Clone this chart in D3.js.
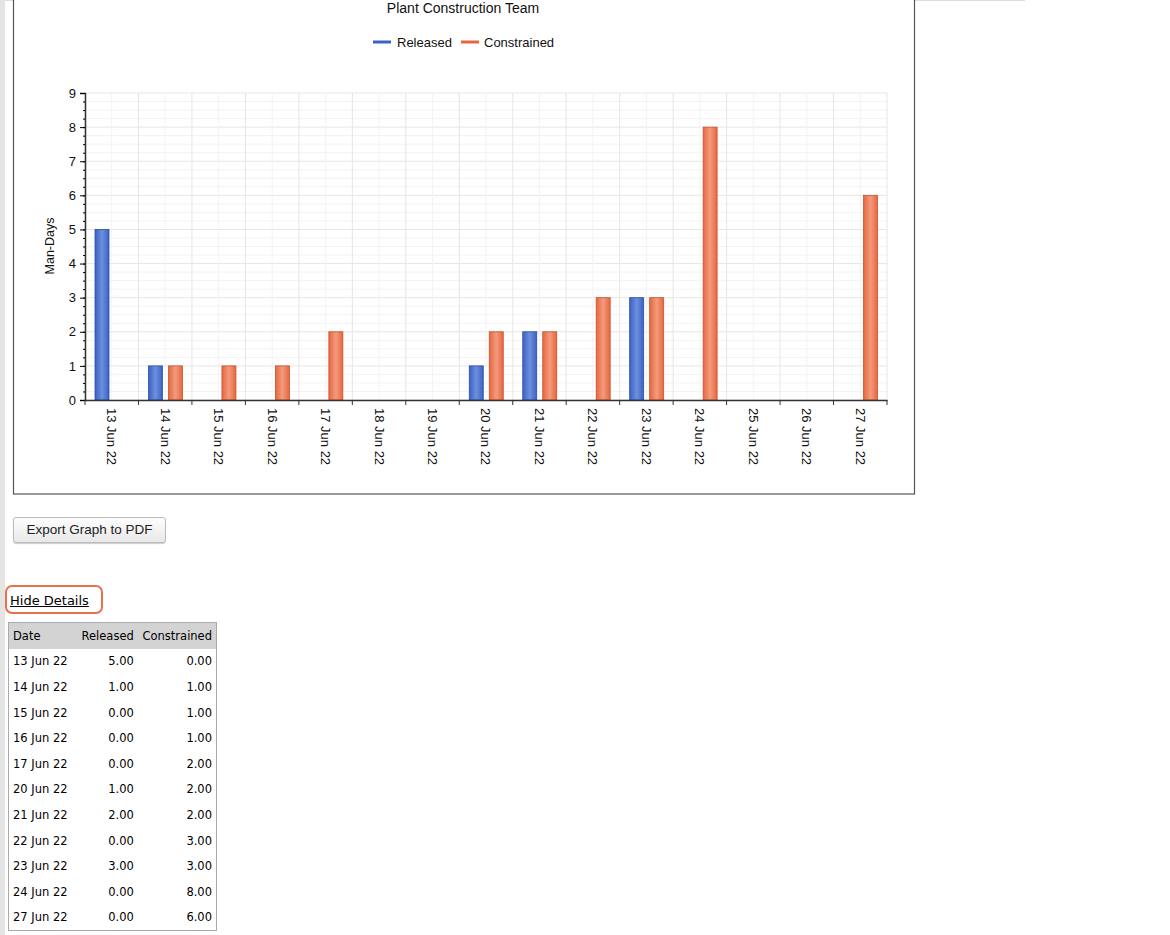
<!DOCTYPE html>
<html><head><meta charset="utf-8">
<script src="https://cdn.jsdelivr.net/npm/d3@7"></script>
<style>
body{margin:0;background:#fff;font-family:"Liberation Sans",Arial,sans-serif;}
#page{position:absolute;left:0;top:0;width:1170px;height:935px;}
#lbar{position:absolute;left:0;top:0;width:5px;height:935px;background:#e4e4e4;}
#tbar{position:absolute;left:5px;top:0;width:1020px;height:1px;background:#ddd;}
#btn{position:absolute;left:13px;top:517px;width:151px;height:24px;border:1px solid #bbb;border-radius:3px;background:linear-gradient(#fdfdfd,#e8e8e8);font-size:13.5px;color:#222;text-align:center;line-height:24px;box-shadow:0 1px 1px #ccc;}
#hide{position:absolute;left:5px;top:585px;width:98px;height:29px;border:2px solid #e8704a;border-radius:7px;box-sizing:border-box;}
#hide span{position:absolute;left:3px;top:6px;font-family:"DejaVu Sans",Verdana,sans-serif;font-size:13px;text-decoration:underline;color:#000;}
table{position:absolute;left:8px;top:622px;width:209px;border-collapse:collapse;border:1px solid #aaa;font-family:"DejaVu Sans",Verdana,sans-serif;font-size:11.5px;}
td,th{height:25.6px;padding:0 4px;font-weight:normal;}
th{background:#d3d3d3;text-align:left;}
td.n,th.n{text-align:right;}
</style></head>
<body><div id="page">
<div id="lbar"></div><div id="tbar"></div>
<svg id="chart" width="1170" height="500" style="position:absolute;left:0;top:0"></svg>
<div id="btn">Export Graph to PDF</div>
<div id="hide"><span>Hide Details</span></div>
<table id="tbl"></table>
</div>
<script>
var dates=["13 Jun 22","14 Jun 22","15 Jun 22","16 Jun 22","17 Jun 22","18 Jun 22","19 Jun 22","20 Jun 22","21 Jun 22","22 Jun 22","23 Jun 22","24 Jun 22","25 Jun 22","26 Jun 22","27 Jun 22"];
var released=[5,1,0,0,0,0,0,1,2,0,3,0,0,0,0];
var constrained=[0,1,1,1,2,0,0,2,2,3,3,8,0,0,6];
var tableDates=["13 Jun 22","14 Jun 22","15 Jun 22","16 Jun 22","17 Jun 22","20 Jun 22","21 Jun 22","22 Jun 22","23 Jun 22","24 Jun 22","27 Jun 22"];

var svg=d3.select("#chart");
svg.append("rect").attr("x",13.5).attr("y",-5).attr("width",901).attr("height",499)
   .attr("fill","#fff").attr("stroke","#555").attr("stroke-width",1.2);

var defs=svg.append("defs");
function grad(id,c1,c2,c3){
  var g=defs.append("linearGradient").attr("id",id);
  g.append("stop").attr("offset","0").attr("stop-color",c1);
  g.append("stop").attr("offset","0.5").attr("stop-color",c2);
  g.append("stop").attr("offset","1").attr("stop-color",c3);
}
grad("gb","#3a62c6","#6d8fdc","#3a62c6");
grad("go","#e8663f","#f29b7c","#e8663f");

var x=d3.scaleBand().domain(dates).range([85,887]);
var y=d3.scaleLinear().domain([0,9]).range([400,93]);
var g=svg.append("g");

// grid
d3.range(0,9.01,0.25).forEach(function(v){
  g.append("line").attr("x1",85).attr("x2",887).attr("y1",y(v)).attr("y2",y(v))
   .attr("stroke",v%1==0?"#e6e6e6":"#f3f3f3");
});
dates.forEach(function(d){
  [x(d),x(d)+x.bandwidth()/2].forEach(function(px,i){
    g.append("line").attr("x1",px).attr("x2",px).attr("y1",93).attr("y2",400)
     .attr("stroke",i==0?"#e6e6e6":"#f3f3f3");
  });
});
g.append("line").attr("x1",887).attr("x2",887).attr("y1",93).attr("y2",400).attr("stroke","#e6e6e6");

var bw=14;
g.selectAll(".rb").data(dates).enter().append("rect")
 .attr("x",function(d){return x(d)+10;}).attr("width",bw)
 .attr("y",function(d,i){return y(released[i]);})
 .attr("height",function(d,i){return 400-y(released[i]);})
 .attr("fill","url(#gb)").attr("stroke","#2c4fa8").attr("stroke-width",0.8)
 .style("display",function(d,i){return released[i]?null:"none";});
g.selectAll(".cb").data(dates).enter().append("rect")
 .attr("x",function(d){return x(d)+30;}).attr("width",bw)
 .attr("y",function(d,i){return y(constrained[i]);})
 .attr("height",function(d,i){return 400-y(constrained[i]);})
 .attr("fill","url(#go)").attr("stroke","#c9522d").attr("stroke-width",0.8)
 .style("display",function(d,i){return constrained[i]?null:"none";});

// y axis
var ya=g.append("g").attr("transform","translate(85,0)")
 .call(d3.axisLeft(y).ticks(9).tickSize(5).tickPadding(4));
ya.selectAll("text").attr("font-size",13).attr("fill","#111").attr("font-family","Liberation Sans,Arial");
ya.select(".domain").attr("stroke","#333").attr("stroke-width",1.5);
var ym=g.append("g").attr("transform","translate(85,0)")
 .call(d3.axisLeft(y).tickValues(d3.range(0,9.01,0.25)).tickSize(2).tickFormat(""));
ym.select(".domain").remove();
g.append("text").attr("transform","translate(54,246) rotate(-90)").attr("text-anchor","middle")
 .attr("font-size",12.5).attr("fill","#111").text("Man-Days");

// x axis
var xa=g.append("g").attr("transform","translate(0,400)")
 .call(d3.axisBottom(x).tickSize(0).tickPadding(0));
xa.select(".domain").attr("stroke","#333").attr("stroke-width",1.5);
xa.selectAll("text").attr("font-size",13).attr("fill","#111").attr("font-family","Liberation Sans,Arial")
 .attr("transform","translate(0,8) rotate(90)").attr("text-anchor","start").attr("dy","0.35em").attr("y",0).attr("x",0);
dates.concat(["end"]).forEach(function(d,i){
  var px=i<dates.length?x(d):887;
  g.append("line").attr("x1",px).attr("x2",px).attr("y1",400).attr("y2",405).attr("stroke","#333");
});

// title & legend
svg.append("text").attr("x",463).attr("y",13).attr("text-anchor","middle").attr("font-size",14).attr("fill","#111").text("Plant Construction Team");
svg.append("line").attr("x1",373).attr("x2",391).attr("y1",42).attr("y2",42).attr("stroke","#3a62c6").attr("stroke-width",3);
svg.append("text").attr("x",397).attr("y",47).attr("font-size",13).attr("fill","#111").text("Released");
svg.append("line").attr("x1",461).attr("x2",479).attr("y1",42).attr("y2",42).attr("stroke","#e8663f").attr("stroke-width",3);
svg.append("text").attr("x",484).attr("y",47).attr("font-size",13).attr("fill","#111").text("Constrained");

// table
var tbl=d3.select("#tbl");
var hr=tbl.append("tr");
hr.append("th").style("width","60px").text("Date");
hr.append("th").attr("class","n").text("Released");
hr.append("th").attr("class","n").text("Constrained");
tableDates.forEach(function(d){
  var i=dates.indexOf(d);
  var r=tbl.append("tr");
  r.append("td").text(d);
  r.append("td").attr("class","n").text(released[i].toFixed(2));
  r.append("td").attr("class","n").text(constrained[i].toFixed(2));
});
</script>
</body></html>
